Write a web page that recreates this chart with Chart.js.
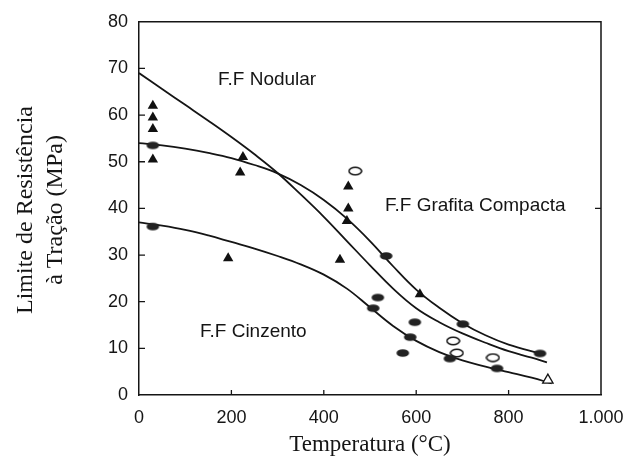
<!DOCTYPE html>
<html>
<head>
<meta charset="utf-8">
<script src="https://cdn.jsdelivr.net/npm/chart.js@4.4.1/dist/chart.umd.min.js"></script>
<style>
  html,body{margin:0;padding:0;background:#fff;}
  #wrap{width:638px;height:465px;}
</style>
</head>
<body>
<div id="wrap"><canvas id="c" width="638" height="465"></canvas></div>
<script>
// ---- Data (temperature °C, strength MPa) ----
const xTicks = [0, 200, 400, 600, 800, 1000];
const yTicks = [0, 10, 20, 30, 40, 50, 60, 70, 80];

// Fitted curves
const nodularT = [0, 50, 100, 150, 200, 250, 300, 350, 400, 450, 500, 550, 600, 650, 700, 750, 800, 850, 883];
const nodularV = [69, 65.6, 62.2, 58.8, 55.3, 51.6, 47.6, 43, 38.2, 33, 27.8, 22.8, 18.6, 15.6, 13.2, 11.2, 9.4, 8, 7];

const compactaT = [0, 50, 100, 150, 200, 250, 300, 350, 400, 450, 500, 550, 600, 650, 700, 750, 800, 868];
const compactaV = [54, 53.5, 52.8, 51.9, 50.8, 49.3, 47.5, 45, 41.8, 37.8, 33, 27.6, 22.6, 18.7, 15.4, 12.8, 10.8, 8.9];

const cinzentoT = [0, 50, 100, 150, 200, 250, 300, 350, 400, 450, 500, 550, 600, 650, 700, 750, 800, 850, 893];
const cinzentoV = [37, 36.3, 35.4, 34.2, 32.8, 31.4, 29.8, 28, 25.8, 22.8, 18.8, 14.8, 11.6, 9.2, 7.4, 6.1, 4.9, 3.7, 2.5];

// Experimental points
const triFilledT = [30, 30, 30, 30, 225, 219, 193, 453, 453, 450, 435, 608];
const triFilledV = [62, 59.5, 57, 50.5, 51, 47.7, 29.3, 44.7, 40, 37.3, 29, 21.6];

const ellFilledT = [30, 30, 535, 517, 507, 597, 701, 587, 571, 673, 775, 868];
const ellFilledV = [53.5, 36.1, 29.8, 20.9, 18.6, 15.6, 15.2, 12.4, 9, 7.8, 5.7, 8.9];

const ellOpenT = [468, 680, 688, 766];
const ellOpenV = [48, 11.6, 9, 8];

const triOpenT = [885];
const triOpenV = [3.2];

const curveLabels = ['F.F Nodular', 'F.F Grafita Compacta', 'F.F Cinzento'];
const xTitle = 'Temperatura (°C)';
const yTitle = ['Limite de Resistência', 'à Tração (MPa)'];

// ---- helpers ----
const pts = (xs, ys) => xs.map((x, i) => ({x: x, y: ys[i]}));
const INK = '#151515';

function ellipseCanvas(filled) {
  const c = document.createElement('canvas');
  c.width = 15; c.height = 10;
  const g = c.getContext('2d');
  g.beginPath();
  g.ellipse(7.5, 5, 6.3, 3.8, 0, 0, Math.PI * 2);
  if (filled) { g.fillStyle = '#222'; g.fill(); }
  else { g.fillStyle = '#fff'; g.fill(); g.lineWidth = 1.6; g.strokeStyle = INK; g.stroke(); }
  return c;
}

const lineDs = (xs, ys) => ({
  type: 'line', data: pts(xs, ys), borderColor: INK, borderWidth: 1.8,
  pointRadius: 0, fill: false, tension: 0.4, order: 2
});
const markDs = (xs, ys, style, opts) => Object.assign({
  type: 'scatter', data: pts(xs, ys), pointStyle: style, showLine: false, order: 1
}, opts);

const decor = {
  id: 'decor',
  afterDraw(chart) {
    const {ctx, chartArea: a, scales: {x, y}} = chart;
    ctx.save();
    ctx.strokeStyle = INK;
    ctx.lineWidth = 1.5;
    // top and right frame
    ctx.beginPath();
    ctx.moveTo(a.left, a.top); ctx.lineTo(a.right, a.top); ctx.lineTo(a.right, a.bottom);
    ctx.stroke();
    // inside ticks
    ctx.lineWidth = 1.3;
    ctx.beginPath();
    yTicks.slice(1, -1).forEach(v => {
      const py = y.getPixelForValue(v);
      ctx.moveTo(a.left, py); ctx.lineTo(a.left + 6, py);
    });
    xTicks.slice(1, -1).forEach(v => {
      const px = x.getPixelForValue(v);
      ctx.moveTo(px, a.bottom); ctx.lineTo(px, a.bottom - 5);
    });
    const p40 = y.getPixelForValue(40);
    ctx.moveTo(a.right, p40); ctx.lineTo(a.right - 6, p40);
    ctx.stroke();
    // curve labels
    ctx.fillStyle = INK;
    ctx.font = '19px "Liberation Sans", Arial, sans-serif';
    ctx.textAlign = 'left';
    ctx.textBaseline = 'middle';
    ctx.fillText(curveLabels[0], 218, 80);
    ctx.fillText(curveLabels[1], 385, 206);
    ctx.fillText(curveLabels[2], 200, 332);
    // y title
    ctx.font = '24px "Liberation Serif", "Times New Roman", serif';
    ctx.textAlign = 'center';
    ctx.translate(26, 210);
    ctx.rotate(-Math.PI / 2);
    ctx.fillText(yTitle[0], 0, 0);
    ctx.fillText(yTitle[1], 0, 30);
    ctx.restore();
  }
};

new Chart(document.getElementById('c'), {
  data: {
    datasets: [
      lineDs(nodularT, nodularV),
      lineDs(compactaT, compactaV),
      lineDs(cinzentoT, cinzentoV),
      markDs(triFilledT, triFilledV, 'triangle', {pointRadius: 6, backgroundColor: '#111', borderWidth: 0}),
      markDs(ellFilledT, ellFilledV, ellipseCanvas(true), {pointRadius: 6}),
      markDs(ellOpenT, ellOpenV, ellipseCanvas(false), {pointRadius: 6}),
      markDs(triOpenT, triOpenV, 'triangle', {pointRadius: 6, backgroundColor: '#fff', borderColor: INK, borderWidth: 1.3})
    ]
  },
  options: {
    responsive: false,
    devicePixelRatio: 1,
    animation: false,
    layout: {padding: {top: 16, right: 37, left: 0, bottom: 0}},
    plugins: {legend: {display: false}, tooltip: {enabled: false}},
    scales: {
      x: {
        type: 'linear', min: 0, max: 1000,
        afterBuildTicks: s => { s.ticks = xTicks.map(v => ({value: v})); },
        afterFit: s => { s.height = 70; },
        ticks: {
          padding: 12, color: INK,
          font: {family: '"Liberation Sans", Arial, sans-serif', size: 18},
          callback: v => v === 1000 ? '1.000' : String(v)
        },
        grid: {drawOnChartArea: false, drawTicks: false},
        border: {display: true, color: INK, width: 1.5},
        title: {
          display: true, text: xTitle, color: INK,
          font: {family: '"Liberation Serif", "Times New Roman", serif', size: 23},
          padding: {top: 0, bottom: 6}
        }
      },
      y: {
        type: 'linear', min: 0, max: 80,
        afterBuildTicks: s => { s.ticks = yTicks.map(v => ({value: v})); },
        afterFit: s => { s.width = 139; },
        ticks: {
          padding: 11, color: INK,
          font: {family: '"Liberation Sans", Arial, sans-serif', size: 18}
        },
        grid: {drawOnChartArea: false, drawTicks: false},
        border: {display: true, color: INK, width: 1.5}
      }
    }
  },
  plugins: [decor]
});
</script>
</body>
</html>
